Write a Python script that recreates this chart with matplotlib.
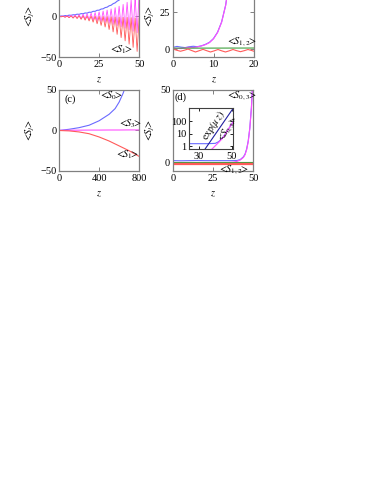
import numpy as np
import matplotlib
matplotlib.use("Agg")
import matplotlib.pyplot as plt

plt.rcParams['font.family'] = ['Liberation Serif', 'DejaVu Serif']
plt.rcParams['mathtext.fontset'] = 'stix'
plt.rcParams['font.size'] = 7.5

# ---- panel (a): oscillating growth, z sampled every half period ----
z_a = np.linspace(0, 50, 41)
s0_a = [0.0, 0.6, 0.4, 1.1, 0.9, 1.6, 1.4, 2.1, 2.0, 2.8, 2.6, 3.5, 3.3, 4.3, 4.1, 5.2,
        5.1, 6.3, 6.3, 7.6, 7.7, 9.1, 9.4, 10.9, 11.4, 13.1, 13.8, 15.7, 16.7, 18.8, 20.1,
        22.5, 24.2, 27.0, 29.1, 32.4, 35.0, 38.9, 42.0, 46.7, 50.4]
s1_a = [0.0, -0.5, 0.3, -1.0, 0.5, -1.5, 0.5, -2.0, 0.6, -2.5, 0.7, -3.5, 0.6, -4.5, 0.5,
        -5.5, 0.4, -7.0, 0.3, -9.0, 0.2, -11.0, 0.0, -13.0, -0.2, -16.0, -0.4, -19.0, -0.6,
        -22.0, -0.8, -26.0, -1.0, -30.0, -1.2, -34.0, -1.5, -38.0, -1.8, -43.0, -2.0]
s2_a = [0.0, -0.3, 0.6, -0.8, 1.0, -1.2, 1.4, -1.6, 1.8, -2.0, 2.3, -2.6, 2.8, -3.2, 3.4,
        -3.9, 4.0, -4.6, 4.8, -5.4, 5.6, -6.3, 6.6, -7.3, 7.8, -8.5, 9.2, -9.8, 10.8, -11.2,
        12.6, -12.8, 14.8, -14.5, 17.4, -16.3, 20.4, -18.2, 24.0, -20.0, 28.0]

# ---- panel (b) ----
z_b = [0, 1, 2, 3, 4, 5, 6, 7, 8, 9, 10, 11, 12, 13, 14, 14.5]
s0_b = [1.2, 1.8, 1.3, 1.0, 1.6, 1.9, 1.6, 2.2, 3.2, 4.6, 7.2, 11.5, 18.5, 30.0, 49.0, 62.0]
s3_b = [0.0, 0.5, 0.3, 0.8, 1.2, 1.0, 1.5, 2.1, 3.0, 4.4, 7.0, 11.3, 18.3, 29.8, 48.8, 61.8]
z_b_osc = [0, 0.9, 1.85, 2.8, 3.7, 4.6, 5.55, 6.5, 7.4, 8.3, 9.25, 10.2, 11.1, 12.0,
           12.95, 13.9, 14.8, 15.7, 16.65, 17.6, 18.5, 19.3, 20.0]
s1_b = [0.0, -0.8, -1.5, -0.8, 0.0, -1.0, -2.0, -1.1, -0.2, -1.1, -2.0, -1.2, -0.3, -1.2,
        -2.0, -1.2, -0.3, -1.1, -1.8, -1.1, -0.3, -0.9, -1.5]
z_b_flat = [0, 20]
s2_b = [0.6, 0.7]

# ---- panel (c) ----
z_c0 = [0, 100, 200, 300, 400, 500, 560, 600, 640, 680]
s0_c = [0.0, 1.5, 3.5, 6.5, 12.0, 20.0, 27.0, 35.0, 46.0, 60.0]
z_c1 = [0, 100, 200, 300, 400, 500, 600, 700, 800]
s1_c = [0.0, -0.5, -1.8, -4.0, -8.0, -13.0, -19.0, -25.0, -32.0]
s3_c = [0.2, 0.3, 0.4, 0.5, 0.5, 0.6, 0.6, 0.7, 0.7]

# ---- panel (d) + inset ----
z_d = [0, 5, 10, 15, 20, 25, 30, 35, 38, 40, 42, 44, 45, 46, 47, 48, 49, 50, 50.6]
s0_d = [1.6, 1.5, 1.6, 1.7, 1.6, 1.6, 1.6, 1.6, 1.65, 1.7, 2.3, 4.2, 6.0, 9.5, 15.0, 24.0,
        38.0, 60.0, 82.0]
s3_d = [0.3, 0.3, 0.3, 0.3, 0.3, 0.3, 0.3, 0.35, 0.6, 1.1, 2.0, 3.8, 5.6, 9.0, 14.5, 23.5,
        37.5, 59.5, 81.0]
z_d_flat = [0, 50]
s2_d = [0.5, 0.5]
s1_d = [-0.8, -0.8]
exp_z = [33.0, 51.0]
exp_v = [0.42, 1150.0]

BLUE = '#6a6aff'
RED = '#ff5a5a'
MAG = '#ff50ff'
GREEN = '#40a040'
NAVY = '#2020a0'
GREY = '#808080'

fig = plt.figure(figsize=(3.74, 4.84), dpi=100)


def style(ax, xlim, ylim, xt, yt):
    ax.set_xlim(*xlim)
    ax.set_ylim(*ylim)
    ax.set_xticks(xt)
    ax.set_yticks(yt)
    for s in ax.spines.values():
        s.set_color(GREY)
        s.set_linewidth(0.9)
    ax.tick_params(direction='in', length=3, width=0.7, color=GREY, top=True, right=True,
                   pad=2, labelsize=7.5)
    ax.set_xlabel(r'$z$', labelpad=5)
    ax.set_ylabel(r'$<\!\!S_j\!\!>$', labelpad=2)


lw = 0.8
ax_a = fig.add_axes([0.158, 0.882, 0.214, 0.168])
ax_a.plot(z_a, s0_a, color=BLUE, lw=lw)
ax_a.plot(z_a, s2_a, color=MAG, lw=0.6)
ax_a.plot(z_a, s1_a, color=RED, lw=0.6)
style(ax_a, (0, 50), (-50, 50), [0, 25, 50], [-50, 0])
ax_a.text(39, -41, r'$<\!\!S_1\!\!>$', ha='center', va='center')

ax_b = fig.add_axes([0.4626, 0.882, 0.2166, 0.168])
ax_b.plot(z_b, s0_b, color=BLUE, lw=lw)
ax_b.plot(z_b, s3_b, color=MAG, lw=lw)
ax_b.plot(z_b_flat, s2_b, color=GREEN, lw=lw)
ax_b.plot(z_b_osc, s1_b, color=RED, lw=lw)
style(ax_b, (0, 20), (-5.5, 50), [0, 10, 20], [0, 25])
ax_b.text(16.8, 4.8, r'$<\!\!S_{1,2}\!\!>$', ha='center', va='center')

ax_c = fig.add_axes([0.158, 0.6467, 0.214, 0.1674])
ax_c.plot(z_c0, s0_c, color=BLUE, lw=lw)
ax_c.plot(z_c1, s3_c, color=MAG, lw=lw)
ax_c.plot(z_c1, s1_c, color=RED, lw=lw)
style(ax_c, (0, 800), (-50, 50), [0, 400, 800], [-50, 0, 50])
ax_c.text(110, 39, '(c)', ha='center', va='center')
ax_c.text(520, 43, r'$<\!\!S_0\!\!>$', ha='center', va='center')
ax_c.text(710, 8.5, r'$<\!\!S_3\!\!>$', ha='center', va='center')
ax_c.text(680, -30.5, r'$<\!\!S_1\!\!>$', ha='center', va='center')

ax_d = fig.add_axes([0.4626, 0.6467, 0.2139, 0.1674])
ax_d.plot(z_d, s0_d, color=BLUE, lw=lw)
ax_d.plot(z_d, s3_d, color=MAG, lw=lw)
ax_d.plot(z_d_flat, s2_d, color=GREEN, lw=lw)
ax_d.plot(z_d_flat, s1_d, color=RED, lw=1.6)
style(ax_d, (0, 50), (-5.5, 50), [0, 25, 50], [0, 50])
ax_d.text(4.4, 45, '(d)', ha='center', va='center')
ax_d.text(42.5, 46.5, r'$<\!\!S_{0,3}\!\!>$', ha='center', va='center')
ax_d.text(37.5, -4.6, r'$<\!\!S_{1,2}\!\!>$', ha='center', va='center', clip_on=False)

ins = fig.add_axes([0.505, 0.6921, 0.1176, 0.0847])
ins.plot(z_d, s0_d, color=BLUE, lw=lw)
ins.plot(z_d, s3_d, color=MAG, lw=lw)
ins.plot(exp_z, exp_v, color=NAVY, lw=lw)
ins.set_yscale('log')
ins.set_xlim(24, 50.6)
ins.set_ylim(0.6, 1100)
ins.set_xticks([30, 50])
ins.set_yticks([1, 10, 100])
ins.set_yticklabels(['1', '10', '100'])
ins.minorticks_off()
ins.tick_params(direction='in', length=2.5, width=0.6, top=True, right=True, pad=2,
                labelsize=7.5)
for s in ins.spines.values():
    s.set_linewidth(0.8)
    s.set_color('#404040')
ins.text(39.1, 48, r'$\exp(\mu\ z)$', rotation=56, ha='center', va='center', fontsize=7)
ins.text(47.6, 23, r'$<\!\!S_{0,3}\!\!>$', rotation=56, ha='center', va='center', fontsize=7)

fig.savefig('out.png', dpi=100)
